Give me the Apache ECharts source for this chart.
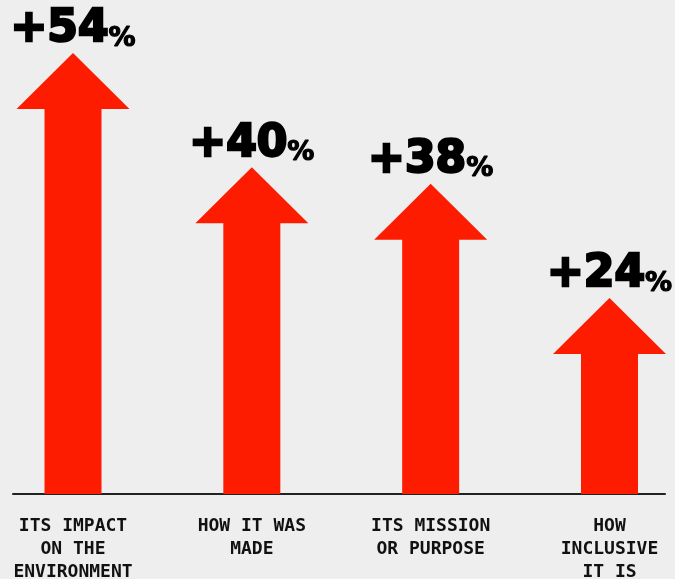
<!DOCTYPE html>
<html>
<head>
<meta charset="utf-8">
<script src="https://cdn.jsdelivr.net/npm/echarts@6/dist/echarts.min.js"></script>
<style>
  html, body { margin: 0; padding: 0; background: #eeeeee; }
  #chart { width: 675px; height: 579px; }
</style>
</head>
<body>
<div id="chart"></div>
<script>
// What shoppers say they care about more now
const categories = [
  'ITS IMPACT\nON THE\nENVIRONMENT',
  'HOW IT WAS\nMADE',
  'ITS MISSION\nOR PURPOSE',
  'HOW\nINCLUSIVE\nIT IS'
];
const increases = [54, 40, 38, 24];

const ARROW_RED = '#fd1c00';
const SHAFT_W = 57;
const HEAD_W = 113;
const HEAD_H = 56;

function renderArrow(params, api) {
  const idx = api.value(0);
  const val = api.value(1);
  const tip = api.coord([idx, val]);
  const base = api.coord([idx, 0]);
  const cx = tip[0];
  const headBase = tip[1] + HEAD_H;
  const pts = [
    [cx, tip[1]],
    [cx + HEAD_W / 2, headBase],
    [cx + SHAFT_W / 2, headBase],
    [cx + SHAFT_W / 2, base[1]],
    [cx - SHAFT_W / 2, base[1]],
    [cx - SHAFT_W / 2, headBase],
    [cx - HEAD_W / 2, headBase]
  ];
  return {
    type: 'group',
    children: [
      {
        type: 'polygon',
        shape: { points: pts },
        style: { fill: ARROW_RED }
      },
      {
        type: 'text',
        x: cx,
        y: tip[1] - 1,
        style: {
          text: '{b|+' + val + '}{p|%}',
          align: 'center',
          verticalAlign: 'bottom',
          rich: {
            b: {
              fontFamily: 'DejaVu Sans',
              fontWeight: 'bold',
              fontSize: 44,
              lineHeight: 44,
              fill: '#000',
              stroke: '#000',
              lineWidth: 2.5,
              verticalAlign: 'bottom'
            },
            p: {
              fontFamily: 'DejaVu Sans',
              fontWeight: 'bold',
              fontSize: 27,
              lineHeight: 31,
              fill: '#000',
              stroke: '#000',
              lineWidth: 1.2,
              verticalAlign: 'bottom'
            }
          }
        }
      }
    ]
  };
}

const chart = echarts.init(document.getElementById('chart'));
chart.setOption({
  backgroundColor: '#eeeeee',
  animation: false,
  grid: [
    { left: 73, right: 65.5, top: 4, bottom: 85, outerBoundsMode: 'none', containLabel: false },
    { left: 13, right: 10, top: 4, bottom: 85, outerBoundsMode: 'none', containLabel: false }
  ],
  xAxis: [
    {
      type: 'category',
      gridIndex: 0,
      data: categories,
      boundaryGap: false,
      axisLine: { show: false },
      axisTick: { show: false },
      axisLabel: {
        interval: 0,
        hideOverlap: false,
        margin: 21,
        fontFamily: 'DejaVu Sans Mono',
        fontWeight: 'bold',
        fontSize: 18,
        lineHeight: 23,
        color: '#111',
        align: 'center'
      }
    },
    {
      type: 'value',
      gridIndex: 1,
      min: 0,
      max: 1,
      axisLine: { show: true, lineStyle: { color: '#222', width: 2 } },
      axisTick: { show: false },
      axisLabel: { show: false },
      splitLine: { show: false }
    }
  ],
  yAxis: [
    { type: 'value', gridIndex: 0, min: 0, max: 60, show: false, splitLine: { show: false } },
    { type: 'value', gridIndex: 1, min: 0, max: 1, show: false, splitLine: { show: false } }
  ],
  series: [
    {
      type: 'custom',
      xAxisIndex: 0,
      yAxisIndex: 0,
      renderItem: renderArrow,
      clip: false,
      data: increases.map((v, i) => [i, v])
    }
  ]
});
</script>
</body>
</html>
